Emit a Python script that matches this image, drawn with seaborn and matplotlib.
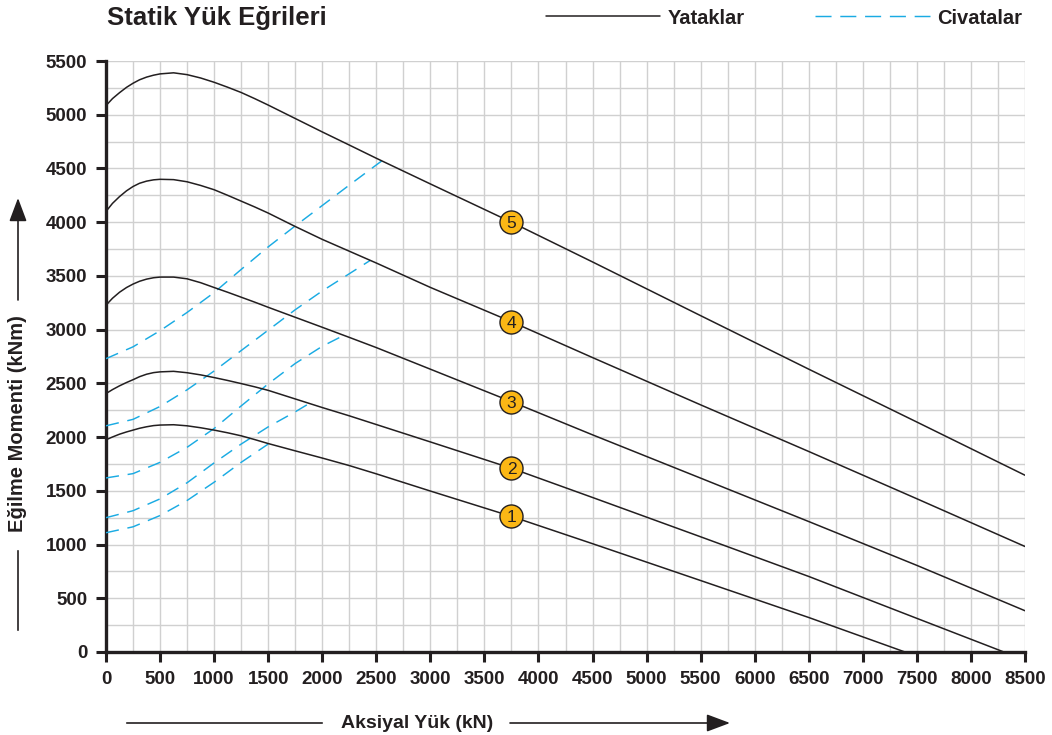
import numpy as np
import pandas as pd
import matplotlib
matplotlib.use("Agg")
import matplotlib.pyplot as plt
from matplotlib.lines import Line2D
import seaborn as sns

# ---------------- data ----------------
# Bearing (Yataklar) curves 1..5
b1_x = [0, 60, 125, 190, 250, 310, 375, 440, 500, 625, 750, 875, 1000, 1125, 1250, 1375, 1500,
        1750, 2000, 2250, 2500, 3000, 3750, 4500, 5500, 6500, 7390]
b1_y = [1975, 2001, 2027, 2048, 2065, 2082, 2096, 2107, 2112, 2115, 2105, 2087, 2065, 2040, 2012, 1977, 1940,
        1872, 1805, 1735, 1658, 1498, 1262, 1008, 665, 321, 0]

b2_x = [0, 60, 125, 190, 250, 310, 375, 440, 500, 625, 750, 875, 1000, 1125, 1250, 1375, 1500,
        1750, 2000, 2250, 2500, 3000, 3750, 4500, 5500, 6500, 7500, 8305]
b2_y = [2405, 2442, 2477, 2508, 2534, 2562, 2585, 2600, 2607, 2612, 2599, 2579, 2554, 2527, 2498, 2468, 2435,
        2355, 2275, 2198, 2117, 1955, 1710, 1438, 1072, 703, 313, 0]

b3_x = [0, 60, 125, 190, 250, 310, 375, 440, 500, 625, 750, 875, 1000, 1125, 1250, 1375, 1500,
        1750, 2000, 2250, 2500, 3000, 3750, 4500, 5500, 6500, 7500, 8500]
b3_y = [3228, 3292, 3348, 3392, 3424, 3450, 3470, 3483, 3489, 3489, 3473, 3437, 3392, 3348, 3302, 3256, 3208,
        3115, 3022, 2928, 2833, 2632, 2330, 2021, 1618, 1214, 806, 384]

b4_x = [0, 60, 125, 190, 250, 310, 375, 440, 500, 625, 750, 875, 1000, 1125, 1250, 1375, 1500,
        1750, 2000, 2250, 2500, 3000, 3750, 4500, 5500, 6500, 7500, 8500]
b4_y = [4100, 4175, 4238, 4292, 4332, 4362, 4382, 4394, 4399, 4396, 4376, 4342, 4302, 4250, 4196, 4142, 4085,
        3960, 3840, 3730, 3620, 3393, 3074, 2740, 2300, 1866, 1426, 982]

b5_x = [0, 60, 125, 190, 250, 310, 375, 440, 500, 625, 750, 875, 1000, 1125, 1250, 1375, 1500,
        1750, 2000, 2250, 2500, 3000, 3750, 4500, 5500, 6500, 7500, 8500]
b5_y = [5085, 5150, 5205, 5255, 5293, 5325, 5350, 5368, 5380, 5390, 5373, 5342, 5302, 5256, 5207, 5150, 5090,
        4965, 4840, 4718, 4595, 4356, 4000, 3630, 3130, 2632, 2140, 1645]

# Bolt (Civatalar) curves 1..5
d1_x = [0, 250, 500, 750, 1000, 1250, 1500]
d1_y = [1110, 1165, 1270, 1410, 1580, 1765, 1935]
d2_x = [0, 250, 500, 750, 1000, 1250, 1500, 1750, 1875]
d2_y = [1250, 1315, 1425, 1575, 1760, 1935, 2095, 2235, 2310]
d3_x = [0, 250, 500, 750, 1000, 1250, 1500, 1750, 2000, 2190]
d3_y = [1620, 1660, 1765, 1905, 2080, 2290, 2495, 2685, 2845, 2942]
d4_x = [0, 250, 500, 750, 1000, 1250, 1500, 1750, 2000, 2250, 2445]
d4_y = [2105, 2165, 2285, 2440, 2615, 2805, 2995, 3185, 3360, 3520, 3645]
d5_x = [0, 250, 500, 750, 1000, 1250, 1500, 1750, 2000, 2250, 2550]
d5_y = [2730, 2840, 2990, 3160, 3345, 3560, 3770, 3965, 4155, 4345, 4570]

marker_labels = ["1", "2", "3", "4", "5"]
marker_x = [3750, 3750, 3750, 3750, 3750]
marker_y = [1262, 1710, 2330, 3074, 4000]

title = "Statik Yük Eğrileri"
legend_labels = ["Yataklar", "Civatalar"]
xlabel = "Aksiyal Yük (kN)"
ylabel = "Eğilme Momenti (kNm)"

# ---------------- styling ----------------
sns.set_theme(style="white")
plt.rcParams["font.family"] = ["Liberation Sans", "DejaVu Sans"]

BLACK = "#231f20"
BLUE = "#1aabe3"
YELLOW = "#fbb715"
GRID = "#d0d0d0"

fig = plt.figure(figsize=(10.52, 7.35), dpi=100)
ax = fig.add_axes([106 / 1052, 1 - 652 / 735, (1025 - 106) / 1052, (652 - 61) / 735])

bearings = [(b1_x, b1_y), (b2_x, b2_y), (b3_x, b3_y), (b4_x, b4_y), (b5_x, b5_y)]
bolts = [(d1_x, d1_y), (d2_x, d2_y), (d3_x, d3_y), (d4_x, d4_y), (d5_x, d5_y)]

dash = (0, (9, 6))
for bx, by in bolts:
    sns.lineplot(x=bx, y=by, ax=ax, color=BLUE, linewidth=1.05, linestyle=dash, zorder=3)
for bx, by in bearings:
    sns.lineplot(x=bx, y=by, ax=ax, color=BLACK, linewidth=1.1, zorder=4,
                 solid_joinstyle="round")

df_m = pd.DataFrame({"x": marker_x, "y": marker_y, "lab": marker_labels})
sns.scatterplot(data=df_m, x="x", y="y", ax=ax, s=275, color=YELLOW,
                edgecolor=BLACK, linewidth=1.0, zorder=5, legend=False)
for _, r in df_m.iterrows():
    ax.text(r["x"], r["y"], r["lab"], ha="center", va="center_baseline",
            fontsize=12.5, color=BLACK, zorder=6)

ax.set_xlim(0, 8500)
ax.set_ylim(0, 5500)
ax.set_xticks(np.arange(0, 8501, 500))
ax.set_yticks(np.arange(0, 5501, 500))
ax.set_xticks(np.arange(0, 8501, 250), minor=True)
ax.set_yticks(np.arange(0, 5501, 250), minor=True)
ax.grid(True, which="both", color=GRID, linewidth=1.0)
ax.set_axisbelow(True)
ax.set_xlabel("")
ax.set_ylabel("")

for s in ["top", "right"]:
    ax.spines[s].set_visible(False)
for s in ["left", "bottom"]:
    ax.spines[s].set_color(BLACK)
    ax.spines[s].set_linewidth(2.4)

ax.tick_params(which="major", direction="out", length=7.5, width=2.2, color=BLACK,
               labelsize=13.5, labelcolor=BLACK, pad=6, left=True, bottom=True)
ax.tick_params(which="minor", length=0)
for lab in ax.get_xticklabels() + ax.get_yticklabels():
    lab.set_fontweight("bold")

# title
fig.text(107 / 1052, 1 - 18 / 735, title, fontsize=18.5, fontweight="bold",
         color=BLACK, ha="left", va="center")

# legend
handles = [Line2D([0], [0], color=BLACK, linewidth=1.1),
           Line2D([0], [0], color=BLUE, linewidth=1.05, linestyle=(0, (11, 6)))]
fig.legend(handles, legend_labels, loc="center right",
           bbox_to_anchor=(1022 / 1052, 1 - 18 / 735), ncol=2, frameon=False,
           prop={"weight": "bold", "size": 14.5}, handlelength=5.7,
           handletextpad=0.35, columnspacing=3.5, borderpad=0, borderaxespad=0,
           labelcolor=BLACK)

# axis labels with arrows
fig.text(417 / 1052, 1 - 723 / 735, xlabel, fontsize=14, fontweight="bold",
         color=BLACK, ha="center", va="center")
fig.text(18 / 1052, 1 - 424 / 735, ylabel, fontsize=14.5, fontweight="bold",
         color=BLACK, ha="center", va="center", rotation=90)

def fpx(x, y):
    return (x / 1052, 1 - y / 735)

# x-axis arrow
ax.annotate("", xy=fpx(325, 723), xytext=fpx(124, 723), xycoords="figure fraction",
            textcoords="figure fraction",
            arrowprops=dict(arrowstyle="-", color=BLACK, lw=1.2))
ax.annotate("", xy=fpx(730, 723), xytext=fpx(510, 723), xycoords="figure fraction",
            textcoords="figure fraction",
            arrowprops=dict(arrowstyle="-|>,head_length=1.2,head_width=0.45",
                            color=BLACK, lw=1.2, shrinkA=0, shrinkB=0))
# y-axis arrow
ax.annotate("", xy=fpx(18, 548), xytext=fpx(18, 633), xycoords="figure fraction",
            textcoords="figure fraction",
            arrowprops=dict(arrowstyle="-", color=BLACK, lw=1.2))
ax.annotate("", xy=fpx(18, 198), xytext=fpx(18, 300), xycoords="figure fraction",
            textcoords="figure fraction",
            arrowprops=dict(arrowstyle="-|>,head_length=1.2,head_width=0.45",
                            color=BLACK, lw=1.2, shrinkA=0, shrinkB=0))

fig.savefig("out.png", dpi=100)
